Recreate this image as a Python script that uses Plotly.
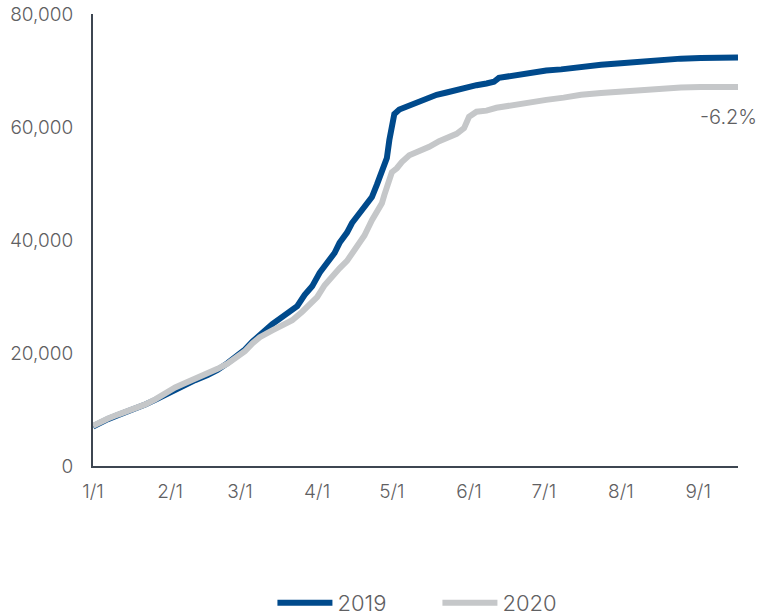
import pandas as pd
import plotly.graph_objects as go

# Cumulative totals by day of year (day 0 = Jan 1)
days_2019 = [0, 3, 6, 10, 14, 17, 21, 25, 29, 33, 37, 41, 46, 50, 54, 57, 61, 64, 68, 72,
             77, 82, 85, 88, 91, 94, 97, 99, 102, 104, 107, 110, 112, 114, 116, 117, 118,
             119, 120, 121, 123, 127, 130, 134, 138, 142, 146, 150, 154, 158, 161, 163,
             168, 175, 182, 188, 196, 204, 212, 220, 228, 236, 244, 252, 259]
values_2019 = [7000, 7700, 8300, 9000, 9600, 10300, 10900, 11700, 12600, 13450, 14300,
               15200, 16100, 17000, 18200, 19100, 20600, 22000, 23700, 25100, 26700, 28300,
               30300, 31800, 34200, 35900, 37700, 39500, 41300, 43000, 44800, 46300, 47600,
               49800, 52200, 53300, 54500, 57700, 61000, 62300, 63100, 63800, 64400, 65000,
               65700, 66100, 66600, 67000, 67400, 67700, 68000, 68700, 69100, 69700, 70000,
               70200, 70700, 71000, 71300, 71600, 71900, 72100, 72200, 72300, 72300]

days_2020 = [0, 3, 6, 10, 14, 17, 21, 25, 29, 33, 37, 41, 46, 50, 54, 57, 61, 64, 67, 72,
             77, 80, 84, 88, 90, 93, 96, 99, 102, 104, 106, 109, 112, 115, 116, 117, 118,
             119, 120, 122, 124, 127, 131, 135, 139, 143, 146, 149, 151, 154, 158, 162,
             168, 175, 182, 189, 196, 204, 212, 220, 228, 236, 244, 252, 259]
values_2020 = [7100, 7800, 8400, 9100, 9700, 10200, 10900, 11800, 12900, 13900, 14700,
               15400, 16300, 17200, 18100, 19000, 20300, 21700, 22800, 24000, 25000, 25800,
               27300, 29000, 29900, 32000, 33700, 35000, 36300, 37500, 38800, 40800, 43500,
               45600, 46500, 48000, 49500, 51200, 52000, 52700, 53800, 55000, 55700, 56500,
               57500, 58200, 58800, 59800, 61800, 62700, 62900, 63400, 63900, 64400, 64800,
               65200, 65700, 66000, 66300, 66600, 66900, 67000, 67100, 67100, 67100]

tick_dates = ["2019-01-01", "2019-02-01", "2019-03-01", "2019-04-01", "2019-05-01",
              "2019-06-01", "2019-07-01", "2019-08-01", "2019-09-01"]
tick_labels = ["1/1", "2/1", "3/1", "4/1", "5/1", "6/1", "7/1", "8/1", "9/1"]
y_ticks = [0, 20000, 40000, 60000, 80000]
change_label = "-6.2%"

start = pd.Timestamp("2019-01-01")
x_2019 = start + pd.to_timedelta(days_2019, unit="D")
x_2020 = start + pd.to_timedelta(days_2020, unit="D")

FONT = "Inter"
TEXT = "#5f6062"
AXIS = "#3d4651"

fig = go.Figure()
fig.add_trace(go.Scatter(x=x_2019, y=values_2019, mode="lines", name="2019",
                         line=dict(color="#004a8c", width=6)))
fig.add_trace(go.Scatter(x=x_2020, y=values_2020, mode="lines", name="2020",
                         line=dict(color="#c5c7c9", width=6)))

fig.add_annotation(x=x_2020[-1], y=values_2020[-1], text=change_label, showarrow=False,
                   xanchor="right", yanchor="top", yshift=-16, xshift=21,
                   font=dict(family=FONT, size=20, color=TEXT, weight=300))

fig.update_layout(
    width=761, height=615,
    margin=dict(l=93, r=23, t=14, b=149),
    plot_bgcolor="white", paper_bgcolor="white",
    font=dict(family=FONT, size=19, color=TEXT, weight=300),
    showlegend=True,
    legend=dict(orientation="h", x=0.534, xanchor="center", xref="paper",
                y=12 / 615, yanchor="middle", yref="container",
                traceorder="normal", itemwidth=55, entrywidth=95, entrywidthmode="pixels",
                font=dict(family=FONT, size=22, color=TEXT, weight=300)),
    xaxis=dict(type="date", range=[start, x_2019[-1]], tickvals=tick_dates,
               ticktext=tick_labels, showgrid=False, zeroline=False, automargin=False,
               showline=True, linecolor=AXIS, linewidth=2,
               ticks="outside", ticklen=7, tickcolor="rgba(0,0,0,0)",
               tickfont=dict(family=FONT, size=19, color=TEXT, weight=300)),
    yaxis=dict(range=[0, 80000], tickvals=y_ticks, tickformat=",", showgrid=False,
               zeroline=False, showline=True, linecolor=AXIS, linewidth=2, automargin=False,
               ticks="outside", ticklen=14, tickcolor="rgba(0,0,0,0)",
               tickfont=dict(family=FONT, size=19, color=TEXT, weight=300)),
)

fig.write_html("out.html")
